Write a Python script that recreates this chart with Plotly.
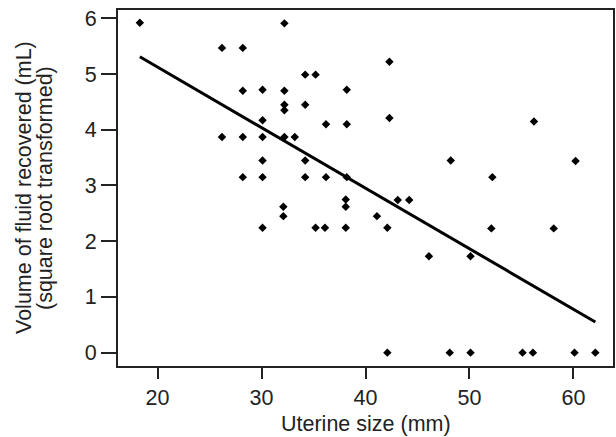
import plotly.graph_objects as go

# Observed points: uterine size (mm) and square-root transformed fluid volume
uterine_size = [18.3, 26.2, 28.2, 28.2, 30.1, 30.1, 26.2, 28.2, 30.1, 30.1,
                28.2, 30.1, 30.1, 32.2, 42.3, 34.2, 35.2, 32.2, 38.2, 32.2,
                32.2, 34.2, 42.3, 36.2, 38.2, 32.2, 33.2, 34.2, 34.2, 36.2,
                38.2, 48.2, 56.2, 60.2, 52.2, 32.1, 32.1, 38.1, 38.1, 43.1,
                44.2, 41.1, 35.2, 36.1, 38.1, 42.1, 46.1, 52.1, 58.1, 50.1,
                42.1, 48.1, 50.1, 55.1, 56.1, 60.1, 62.1]
fluid_volume = [5.92, 5.47, 5.47, 4.70, 4.72, 4.17, 3.87, 3.87, 3.87, 3.45,
                3.15, 3.15, 2.24, 5.91, 5.22, 4.99, 4.99, 4.70, 4.72, 4.45,
                4.35, 4.45, 4.21, 4.10, 4.10, 3.87, 3.87, 3.45, 3.15, 3.15,
                3.15, 3.45, 4.15, 3.44, 3.15, 2.62, 2.45, 2.75, 2.62, 2.74,
                2.74, 2.45, 2.24, 2.24, 2.24, 2.24, 1.73, 2.23, 2.23, 1.73,
                0, 0, 0, 0, 0, 0, 0]

# Fitted regression line endpoints
fit_x = [18.3, 62.1]
fit_y = [5.31, 0.55]

x_ticks = [20, 30, 40, 50, 60]
y_ticks = [0, 1, 2, 3, 4, 5, 6]

FONT = "Liberation Sans, Arial, sans-serif"
FS = 21.5

fig = go.Figure()
fig.add_trace(go.Scatter(x=fit_x, y=fit_y, mode="lines",
                         line=dict(color="black", width=3), hoverinfo="skip"))
fig.add_trace(go.Scatter(x=uterine_size, y=fluid_volume, mode="markers",
                         marker=dict(symbol="diamond", size=6.5, color="black")))

fig.update_layout(
    width=616, height=437,
    margin=dict(l=118, r=1, t=10, b=71),
    paper_bgcolor="white", plot_bgcolor="white",
    showlegend=False,
    font=dict(family=FONT, size=FS, color="#222"),
    xaxis=dict(range=[16.2, 63.8], tickvals=x_ticks, ticks="outside", ticklen=11,
               tickwidth=1.5, tickcolor="#222", showline=True, linecolor="#222",
               linewidth=1.8, mirror=True, showgrid=False, zeroline=False,
               tickfont=dict(size=FS)),
    yaxis=dict(range=[-0.24, 6.15], tickvals=y_ticks, ticks="outside", ticklen=15,
               tickwidth=1.5, tickcolor="#222", showline=True, linecolor="#222",
               linewidth=1.8, mirror=True, showgrid=False, zeroline=False,
               tickfont=dict(size=FS)),
    annotations=[
        dict(text="Uterine size (mm)", xref="paper", yref="paper", x=0.5, y=0,
             xanchor="center", yanchor="top", yshift=-44, showarrow=False,
             font=dict(size=FS)),
        dict(text="Volume of fluid recovered (mL)", xref="paper", yref="paper",
             x=0, y=0.5, xanchor="center", yanchor="middle", xshift=-94,
             textangle=-90, showarrow=False, font=dict(size=FS)),
        dict(text="(square root transformed)", xref="paper", yref="paper",
             x=0, y=0.5, xanchor="center", yanchor="middle", xshift=-73,
             textangle=-90, showarrow=False, font=dict(size=FS)),
    ],
)

fig.write_html("out.html", config={"displayModeBar": False},
               post_script="document.body.style.margin='0';document.body.style.overflow='hidden';")
